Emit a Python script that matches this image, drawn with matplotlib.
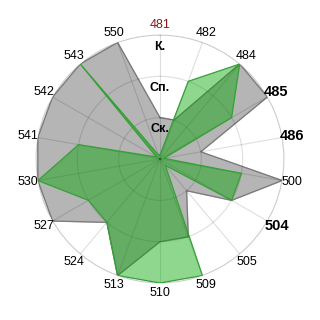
import matplotlib
matplotlib.use("Agg")
import matplotlib.pyplot as plt
import numpy as np

plt.rcParams['font.family'] = ['Liberation Sans', 'DejaVu Sans']

# categories clockwise from the top
cats = ['481', '482', '484', '485', '486', '500', '504', '505', '509',
        '510', '513', '524', '527', '530', '541', '542', '543', '550']
bold_cats = ['485', '486', '504']
red_cats = ['481']

# levels: 1 = Ск., 2 = Сп., 3 = К.
level_names = ['Ск.', 'Сп.', 'К.']
level_vals = [1, 2, 3]

gray_vals = [1, 1, 3, 3, 1, 3, 2, 1, 2,
             2, 3, 2, 3, 3, 3, 3, 3, 3]
green_vals = [0.1, 2, 3, 2, 0.1, 2, 2, 0.2, 3,
              3, 3, 2, 2, 3, 2, 0.1, 3, 0.1]

n = len(cats)
theta = np.linspace(0, 2 * np.pi, n, endpoint=False)
th = np.append(theta, theta[0])

fig = plt.figure(figsize=(3.2, 3.2), dpi=100)
ax = fig.add_axes([0.1125, 0.1156, 0.775, 0.775], projection='polar')
ax.set_theta_zero_location('N')
ax.set_theta_direction(-1)

g = np.append(gray_vals, gray_vals[0])
ax.fill(th, g, color='#b5b5b5', zorder=1)
ax.plot(th, g, color='#7a7a7a', lw=0.9, zorder=2)

gr = np.append(green_vals, green_vals[0])
ax.fill(th, gr, color=(0.0, 0.64, 0.0), alpha=0.44, lw=0, zorder=3)
ax.plot(th, gr, color='#35a035', lw=0.9, zorder=4)

ax.set_ylim(0, 3)
ax.set_yticks(level_vals)
ax.set_yticklabels([])
ax.set_xticks(theta)
ax.set_xticklabels(cats)
ax.set_axisbelow(False)
ax.grid(True, color='black', alpha=0.13, lw=0.8)
ax.spines['polar'].set_color('#dcdcdc')
ax.spines['polar'].set_linewidth(0.8)
ax.spines['polar'].set_zorder(0.5)
ax.tick_params(axis='x', pad=-3)

for lab in ax.get_xticklabels():
    t = lab.get_text()
    lab.set_fontsize(9)
    lab.set_color('black')
    if t in bold_cats:
        lab.set_fontweight('bold')
        lab.set_fontsize(10.5)
    if t in red_cats:
        lab.set_color('#8b1a1a')

for name, v in zip(level_names, level_vals):
    ax.text(0, v - 0.28, name, ha='center', va='center', fontsize=9,
            fontweight='bold', zorder=6)

fig.savefig('out.png', dpi=100)
